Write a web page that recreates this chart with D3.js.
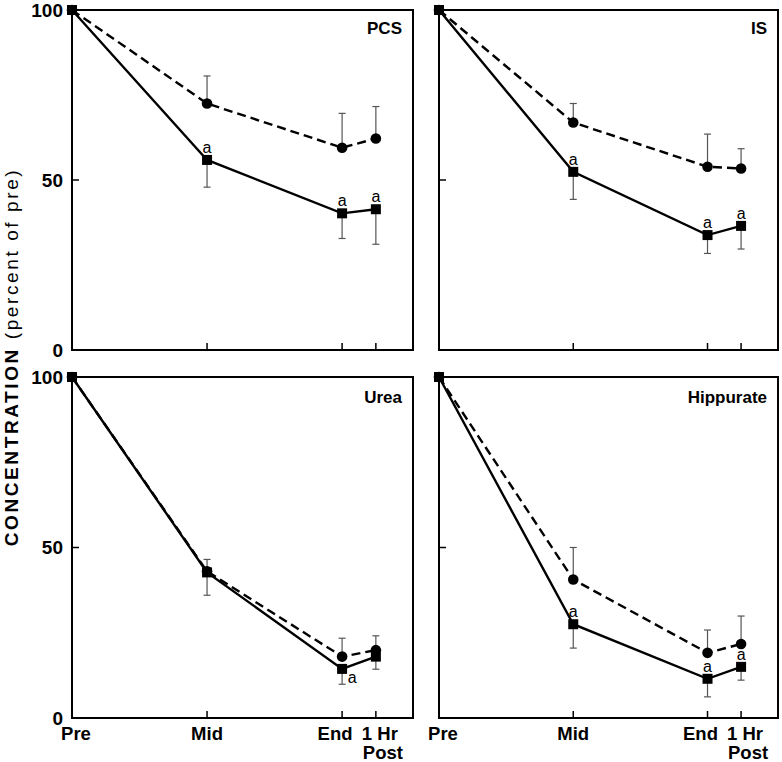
<!DOCTYPE html>
<html>
<head>
<meta charset="utf-8">
<script src="https://cdn.jsdelivr.net/npm/d3@7"></script>
<style>
  body { margin: 0; background: #fff; }
  svg { display: block; font-family: "Liberation Sans", Arial, Helvetica, sans-serif; }
</style>
</head>
<body>
<div id="chart"></div>
<script>
// time points (x position in hours-ish units)
const timeLabels = ["Pre", "Mid", "End", "1 Hr"];
const timePos = [0, 4, 8, 9];
const yTicks = [0, 50, 100];

// PCS
const pcsSquare = [100, 55.9, 40.2, 41.4];
const pcsSquareErr = [0, 8.0, 7.4, 10.3];
const pcsCircle = [100, 72.5, 59.5, 62.2];
const pcsCircleErr = [0, 8.1, 10.1, 9.4];
const pcsSig = [0, 1, 1, 1];

// IS
const isSquare = [100, 52.4, 33.8, 36.5];
const isSquareErr = [0, 8.1, 5.4, 6.8];
const isCircle = [100, 66.9, 53.9, 53.4];
const isCircleErr = [0, 5.6, 9.6, 5.8];
const isSig = [0, 1, 1, 1];

// Urea
const ureaSquare = [100, 42.7, 14.4, 18.0];
const ureaSquareErr = [0, 6.7, 4.5, 3.7];
const ureaCircle = [100, 43.0, 18.0, 19.9];
const ureaCircleErr = [0, 3.5, 5.4, 4.2];
const ureaSig = [0, 0, 2, 0];   // 2 = label to the lower right

// Hippurate
const hipSquare = [100, 27.5, 11.5, 15.0];
const hipSquareErr = [0, 7.0, 5.3, 3.9];
const hipCircle = [100, 40.6, 19.1, 21.7];
const hipCircleErr = [0, 9.4, 6.7, 8.2];
const hipSig = [0, 1, 1, 1];

const W = 782, H = 762;
const svg = d3.select("#chart").append("svg")
  .attr("width", W).attr("height", H);

let panels = [
  { name: "PCS", sq: pcsSquare, sqErr: pcsSquareErr, ci: pcsCircle, ciErr: pcsCircleErr, sig: pcsSig,
    left: 72, right: 413, top: 10, bottom: 350, yLabels: true, xLabels: false, titleDy: 24 },
  { name: "IS", sq: isSquare, sqErr: isSquareErr, ci: isCircle, ciErr: isCircleErr, sig: isSig,
    left: 439, right: 778, top: 10, bottom: 350, yLabels: false, xLabels: false, titleDy: 24 },
  { name: "Urea", sq: ureaSquare, sqErr: ureaSquareErr, ci: ureaCircle, ciErr: ureaCircleErr, sig: ureaSig,
    left: 72, right: 413, top: 377, bottom: 718, yLabels: true, xLabels: true, titleDy: 26 },
  { name: "Hippurate", sq: hipSquare, sqErr: hipSquareErr, ci: hipCircle, ciErr: hipCircleErr, sig: hipSig,
    left: 439, right: 778, top: 377, bottom: 718, yLabels: false, xLabels: true, titleDy: 26 }
];

// label nudges to match the typeset axis labels
let xLabelShift = [4, 0, -7, 4];

panels.forEach(p => {
  let x = d3.scaleLinear().domain([0, 10.1]).range([p.left, p.right]);
  let y = d3.scaleLinear().domain([0, 100]).range([p.bottom, p.top]);
  let g = svg.append("g");

  // frame
  g.append("rect")
    .attr("x", p.left).attr("y", p.top)
    .attr("width", p.right - p.left).attr("height", p.bottom - p.top)
    .attr("fill", "none").attr("stroke", "#000").attr("stroke-width", 2);

  // y ticks, pointing in
  g.selectAll(".ytick").data([50]).enter().append("line")
    .attr("x1", p.left).attr("x2", p.left + 7)
    .attr("y1", d => y(d)).attr("y2", d => y(d))
    .attr("stroke", "#000").attr("stroke-width", 1.5);

  // x ticks, pointing in
  g.selectAll(".xtick").data(timePos.slice(1)).enter().append("line")
    .attr("x1", d => x(d)).attr("x2", d => x(d))
    .attr("y1", p.bottom).attr("y2", p.bottom - 7)
    .attr("stroke", "#000").attr("stroke-width", 1.5);

  if (p.yLabels) {
    g.selectAll(".ylab").data(yTicks).enter().append("text")
      .attr("x", p.left - 9).attr("y", d => y(d)).attr("dy", "0.35em")
      .attr("text-anchor", "end")
      .style("font-size", "19px").style("font-weight", "bold")
      .text(d => d);
  }

  if (p.xLabels) {
    g.selectAll(".xlab").data(timePos).enter().append("text")
      .attr("x", (d, i) => x(d) + xLabelShift[i]).attr("y", p.bottom + 22)
      .attr("text-anchor", "middle")
      .style("font-size", "18.5px").style("font-weight", "bold")
      .text((d, i) => timeLabels[i]);
    g.append("text")
      .attr("x", x(timePos[3]) + 7).attr("y", p.bottom + 41)
      .attr("text-anchor", "middle")
      .style("font-size", "18.5px").style("font-weight", "bold")
      .text("Post");
  }

  // panel title
  g.append("text")
    .attr("x", p.right - 11).attr("y", p.top + p.titleDy)
    .attr("text-anchor", "end")
    .style("font-size", "17px").style("font-weight", "bold")
    .text(p.name);

  let sqPts = timePos.map((t, i) => ({ t: t, v: p.sq[i], e: p.sqErr[i], s: p.sig[i] }));
  let ciPts = timePos.map((t, i) => ({ t: t, v: p.ci[i], e: p.ciErr[i] }));

  // error bars: circles go up, squares go down
  let errG = g.append("g").attr("stroke", "#555").attr("stroke-width", 1.2);
  ciPts.filter(d => d.e > 0).forEach(d => {
    errG.append("line").attr("x1", x(d.t)).attr("x2", x(d.t)).attr("y1", y(d.v)).attr("y2", y(d.v + d.e));
    errG.append("line").attr("x1", x(d.t) - 3.5).attr("x2", x(d.t) + 3.5).attr("y1", y(d.v + d.e)).attr("y2", y(d.v + d.e));
  });
  sqPts.filter(d => d.e > 0).forEach(d => {
    errG.append("line").attr("x1", x(d.t)).attr("x2", x(d.t)).attr("y1", y(d.v)).attr("y2", y(d.v - d.e));
    errG.append("line").attr("x1", x(d.t) - 3.5).attr("x2", x(d.t) + 3.5).attr("y1", y(d.v - d.e)).attr("y2", y(d.v - d.e));
  });

  let line = d3.line().x(d => x(d.t)).y(d => y(d.v));

  g.append("path").datum(ciPts).attr("d", line)
    .attr("fill", "none").attr("stroke", "#000").attr("stroke-width", 2.4)
    .attr("stroke-dasharray", "9,5");
  g.append("path").datum(sqPts).attr("d", line)
    .attr("fill", "none").attr("stroke", "#000").attr("stroke-width", 2.4);

  g.selectAll(".dot").data(ciPts).enter().append("circle")
    .attr("cx", d => x(d.t)).attr("cy", d => y(d.v)).attr("r", 5.3)
    .attr("fill", "#000");
  g.selectAll(".sq").data(sqPts).enter().append("rect")
    .attr("x", d => x(d.t) - 5).attr("y", d => y(d.v) - 5)
    .attr("width", 10).attr("height", 10).attr("fill", "#000");

  // significance marks
  g.selectAll(".sig").data(sqPts.filter(d => d.s > 0)).enter().append("text")
    .attr("x", d => d.s === 2 ? x(d.t) + 10 : x(d.t))
    .attr("y", d => d.s === 2 ? y(d.v) + 14 : y(d.v) - 7)
    .attr("text-anchor", "middle")
    .style("font-size", "16px")
    .text("a");
});

// y axis title
let yt = svg.append("text")
  .attr("transform", "translate(18,357) rotate(-90)")
  .attr("text-anchor", "middle")
  .style("font-size", "19px")
  .style("letter-spacing", "2.6px");
yt.append("tspan").style("font-weight", "bold").text("CONCENTRATION");
yt.append("tspan").text(" (percent of pre)");
</script>
</body>
</html>
